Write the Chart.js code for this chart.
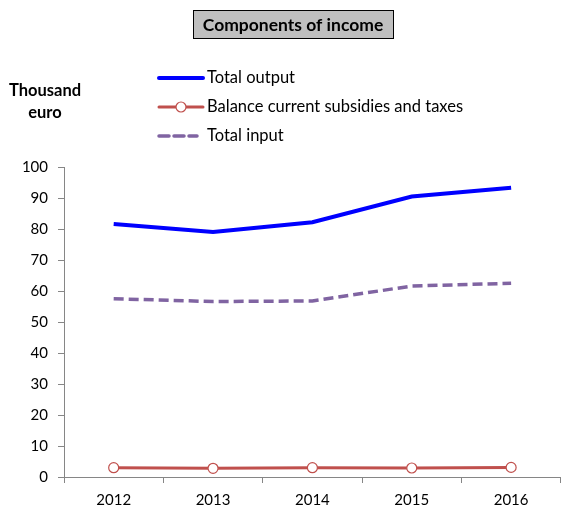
<!DOCTYPE html>
<html lang="en">
<head>
    <meta charset="UTF-8">
    <title>Components of income</title>
    <script src="https://cdn.jsdelivr.net/npm/chart.js"></script>
    <style>
        html, body { margin: 0; padding: 0; background: #fff; overflow: hidden; }
        canvas { display: block; }
    </style>
</head>
<body>
    <canvas id="incomeChart" width="567" height="506"></canvas>

    <script>
        // Datos
        const years = ['2012', '2013', '2014', '2015', '2016'];
        const totalOutput = [81.6, 79.0, 82.2, 90.5, 93.3];
        const balanceSubsidies = [3.0, 2.8, 3.0, 2.9, 3.1];
        const totalInput = [57.5, 56.6, 56.8, 61.6, 62.5];

        const chartTitle = 'Components of income';
        const unitLines = ['Thousand', 'euro'];
        const FONT = 'Lato, "Open Sans", sans-serif';

        // Título con recuadro, unidad y leyenda dibujados a mano
        const decorPlugin = {
            id: 'decor',
            afterDraw(chart) {
                const ctx = chart.ctx;
                ctx.save();

                // recuadro del título
                ctx.fillStyle = '#bfbfbf';
                ctx.fillRect(193, 10, 200, 29);
                ctx.strokeStyle = '#000';
                ctx.lineWidth = 1;
                ctx.strokeRect(193.5, 10.5, 200, 28);
                ctx.fillStyle = '#000';
                ctx.font = 'bold 17.5px ' + FONT;
                ctx.textAlign = 'center';
                ctx.textBaseline = 'middle';
                ctx.fillText(chartTitle, 293, 25);

                // unidad
                ctx.font = 'bold 16.5px ' + FONT;
                ctx.fillText(unitLines[0], 45, 91);
                ctx.fillText(unitLines[1], 45, 113);

                // leyenda
                const rows = [78, 107, 136];
                ctx.font = '16.5px ' + FONT;
                ctx.textAlign = 'left';
                chart.data.datasets.forEach((ds, i) => {
                    const y = rows[i];
                    ctx.strokeStyle = ds.borderColor;
                    ctx.lineWidth = ds.borderWidth;
                    ctx.lineCap = 'round';
                    ctx.setLineDash(ds.borderDash || []);
                    ctx.beginPath();
                    ctx.moveTo(159, y);
                    ctx.lineTo(ds.borderDash ? 197 : 203, y);
                    ctx.stroke();
                    ctx.setLineDash([]);
                    if (ds.pointRadius > 0) {
                        ctx.beginPath();
                        ctx.arc(181, y, ds.pointRadius, 0, Math.PI * 2);
                        ctx.fillStyle = ds.pointBackgroundColor;
                        ctx.fill();
                        ctx.lineWidth = ds.pointBorderWidth;
                        ctx.strokeStyle = ds.borderColor;
                        ctx.stroke();
                    }
                    ctx.fillStyle = '#000';
                    ctx.fillText(ds.label, 207, y);
                });
                ctx.restore();
            }
        };

        const incomeChart = new Chart(
            document.getElementById('incomeChart'),
            {
                type: 'line',
                data: {
                    labels: years,
                    datasets: [
                        {
                            label: 'Total output',
                            data: totalOutput,
                            borderColor: '#0000ff',
                            borderWidth: 4,
                            pointRadius: 0,
                            tension: 0
                        },
                        {
                            label: 'Balance current subsidies and taxes',
                            data: balanceSubsidies,
                            borderColor: '#c0504d',
                            borderWidth: 3,
                            pointRadius: 5,
                            pointBorderWidth: 1.2,
                            pointBackgroundColor: '#ffffff',
                            pointBorderColor: '#c0504d',
                            tension: 0
                        },
                        {
                            label: 'Total input',
                            data: totalInput,
                            borderColor: '#8064a2',
                            borderWidth: 3.5,
                            borderDash: [10, 5],
                            pointRadius: 0,
                            tension: 0
                        }
                    ]
                },
                options: {
                    responsive: false,
                    animation: false,
                    layout: { padding: { top: 167, left: 0, right: 0, bottom: 0 } },
                    plugins: {
                        legend: { display: false },
                        tooltip: { enabled: false }
                    },
                    scales: {
                        x: {
                            offset: true,
                            grid: {
                                offset: true,
                                drawOnChartArea: false,
                                tickLength: 6,
                                color: '#868686'
                            },
                            border: { color: '#868686' },
                            ticks: {
                                color: '#000',
                                font: { family: FONT, size: 15 },
                                padding: 8,
                                maxRotation: 0
                            },
                            afterFit: s => { s.height = 29; }
                        },
                        y: {
                            min: 0,
                            max: 100,
                            grid: {
                                drawOnChartArea: false,
                                tickLength: 6,
                                color: '#868686'
                            },
                            border: { color: '#868686' },
                            ticks: {
                                stepSize: 10,
                                color: '#000',
                                font: { family: FONT, size: 15 },
                                padding: 10
                            },
                            afterFit: s => { s.width = 64; }
                        }
                    }
                },
                plugins: [decorPlugin]
            }
        );
    </script>
</body>
</html>
